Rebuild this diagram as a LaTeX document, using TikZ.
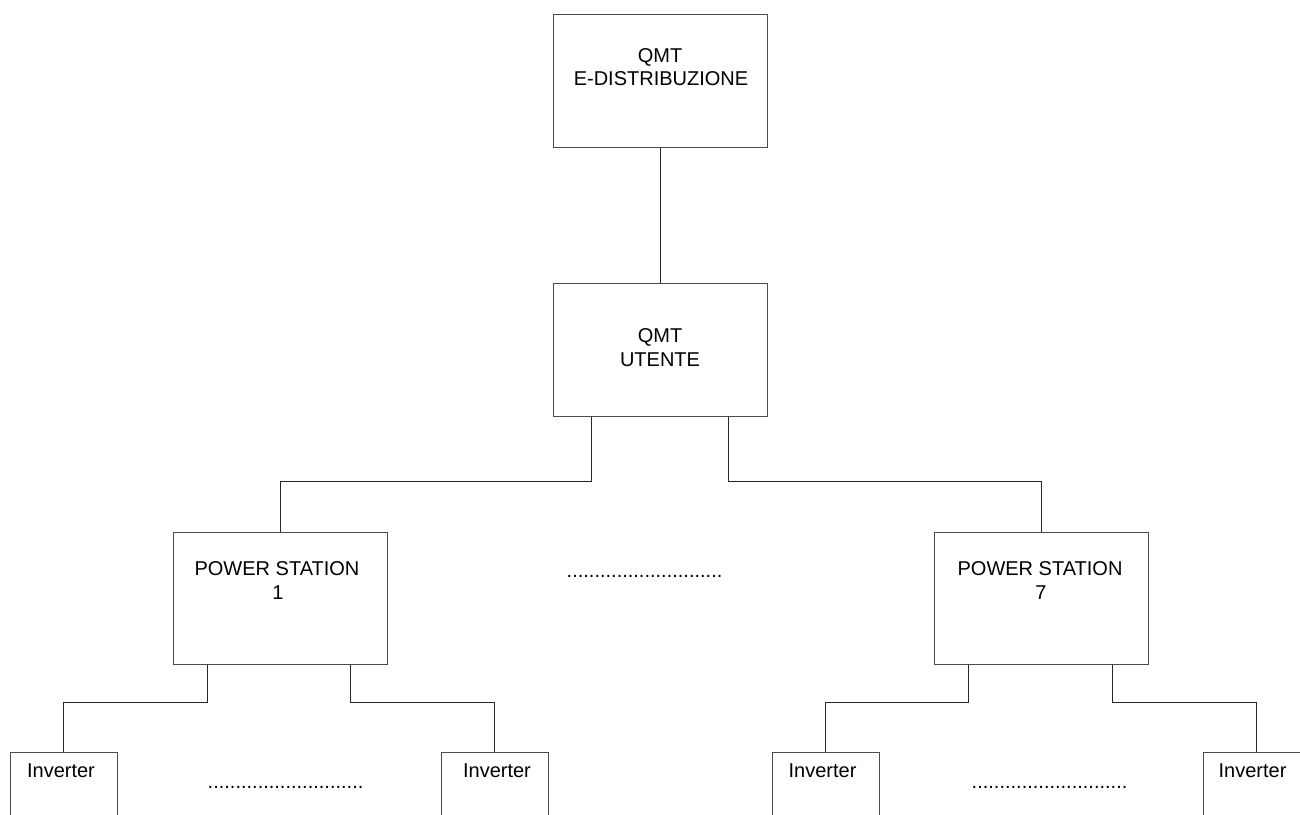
\documentclass[tikz,border=0pt]{standalone}
\usepackage{fontspec}
\setmainfont{Liberation Sans}
\usetikzlibrary{calc}
\begin{document}
\begin{tikzpicture}[x=1pt,y=-1pt,
  box/.style={draw=black!70,line width=1pt,rectangle,inner sep=0pt,minimum width=214pt,minimum height=133pt},
  invbox/.style={draw=black!70,line width=1pt,rectangle,inner sep=0pt,minimum width=107pt,minimum height=78pt},
  lbl/.style={font=\fontsize{20}{24}\selectfont,anchor=base,inner sep=0pt},
  wire/.style={draw=black!85,line width=1pt}]
\useasboundingbox (0,0) rectangle (1300,814);
\clip (0,0) rectangle (1300,814);
\fill[white] (0,0) rectangle (1300,814);
% boxes
\node[box] (qe) at (660,80.5) {};
\node[box] (qu) at (660,349.5) {};
\node[box,minimum height=132pt] (ps1) at (280,598) {};
\node[box,minimum height=132pt] (ps7) at (1041,598) {};
\node[invbox] (inv1) at (63.5,791) {};
\node[invbox] (inv2) at (494.5,791) {};
\node[invbox] (inv3) at (825.5,791) {};
\node[invbox] (inv4) at (1256.5,791) {};
% texts
\node[lbl] (qet1) at (660,62) {QMT};
\node[lbl] (qet2) at (661,85.5) {E-DISTRIBUZIONE};
\node[lbl] (qut1) at (660,342) {QMT};
\node[lbl] (qut2) at (660,366) {UTENTE};
\node[lbl] (ps1t1) at (277,575) {POWER STATION};
\node[lbl] (ps1t2) at (278,599) {1};
\node[lbl] (ps7t1) at (1040,575) {POWER STATION};
\node[lbl] (ps7t2) at (1041,599) {7};
\node[lbl] (inv1t) at (61,777) {Inverter};
\node[lbl] (inv2t) at (497,777) {Inverter};
\node[lbl] (inv3t) at (822.5,777) {Inverter};
\node[lbl] (inv4t) at (1252.5,777) {Inverter};
\node[lbl] (dotsmid) at (644.5,577) {............................};
\node[lbl] (dotsl) at (285.5,788.5) {............................};
\node[lbl] (dotsr) at (1049.5,788.5) {............................};
% bus coordinates
\coordinate (busA) at (0,481);
\coordinate (busB) at (0,702);
% connectors
\draw[wire] (qe.south) -- (qu.north);
\draw[wire] ([xshift=39pt]qu.south west) -- ([xshift=39pt]qu.south west |- busA) -| (ps1.north);
\draw[wire] ([xshift=-39pt]qu.south east) -- ([xshift=-39pt]qu.south east |- busA) -| (ps7.north);
\draw[wire] ([xshift=35pt]ps1.south west) -- ([xshift=35pt]ps1.south west |- busB) -| (inv1.north);
\draw[wire] ([xshift=-37pt]ps1.south east) -- ([xshift=-37pt]ps1.south east |- busB) -| (inv2.north);
\draw[wire] ([xshift=35pt]ps7.south west) -- ([xshift=35pt]ps7.south west |- busB) -| (inv3.north);
\draw[wire] ([xshift=-36pt]ps7.south east) -- ([xshift=-36pt]ps7.south east |- busB) -| (inv4.north);
\end{tikzpicture}
\end{document}
